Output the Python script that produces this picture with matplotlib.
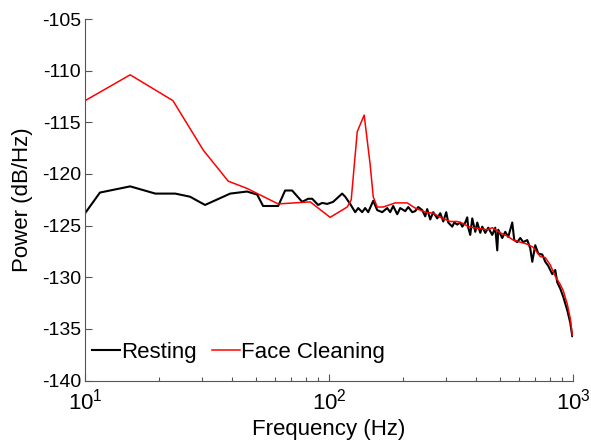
import matplotlib.pyplot as plt

plt.rcParams['font.family'] = ['Liberation Sans', 'DejaVu Sans']
plt.rcParams['mathtext.fontset'] = 'custom'
plt.rcParams['mathtext.rm'] = 'Liberation Sans'
plt.rcParams['mathtext.default'] = 'regular'
plt.rcParams['axes.unicode_minus'] = False

# Resting PSD
rest_freq = [10.0, 11.5, 15.3, 19.4, 23.4, 26.9, 31.0, 39.3, 46.1, 50.7, 53.6, 61.8,
             66.0, 70.5, 77.5, 82.0, 85.2, 90.1, 93.6, 98.1, 103.8, 113.0, 116.3,
             121.9, 127.8, 131.5, 136.5, 140.4, 144.5, 151.5, 157.3, 164.9, 172.9,
             177.8, 182.9, 190.0, 195.4, 204.9, 210.8, 218.9, 225.1, 231.6, 240.5,
             247.4, 252.1, 259.4, 266.8, 277.1, 285.1, 293.3, 301.7, 307.4, 319.3,
             325.4, 334.6, 344.3, 350.9, 361.0, 367.8, 371.3, 378.4, 385.6, 396.7,
             404.3, 415.9, 423.7, 436.0, 448.5, 465.6, 479.0, 488.2, 492.8, 511.7,
             526.4, 541.5, 562.3, 573.1, 589.6, 606.4, 623.9, 647.9, 666.5, 679.2,
             698.7, 718.8, 746.4, 767.8, 789.9, 820.2, 843.8, 859.9, 884.5, 910.0,
             945.0, 972.0, 990.6]
rest_power = [-123.8, -121.8, -121.2, -121.9, -121.9, -122.2, -123.0, -121.9, -121.7,
              -122.0, -123.1, -123.1, -121.6, -121.6, -122.7, -122.4, -122.4, -123.0,
              -122.8, -122.9, -122.7, -121.9, -122.2, -122.9, -123.7, -123.3, -123.7,
              -123.3, -123.7, -122.6, -123.5, -123.7, -123.3, -123.7, -123.1, -123.9,
              -123.3, -123.6, -123.2, -123.7, -123.6, -123.2, -123.5, -124.1, -123.4,
              -124.4, -123.7, -124.3, -123.8, -124.6, -123.7, -124.7, -125.1, -124.7,
              -124.9, -124.7, -125.1, -124.7, -124.2, -125.2, -125.9, -124.3, -125.6,
              -124.7, -125.7, -125.1, -125.7, -125.2, -125.9, -125.2, -127.4, -125.4,
              -126.2, -125.6, -126.1, -124.7, -126.4, -126.6, -126.2, -126.6, -126.4,
              -127.2, -128.5, -126.9, -127.7, -127.8, -128.5, -128.9, -129.7, -129.3,
              -130.5, -131.1, -131.9, -133.2, -134.4, -135.7]

# Face cleaning PSD
face_freq = [10.0, 15.3, 22.9, 30.5, 38.6, 46.1, 61.8, 83.6, 100.9, 118.5, 123.1,
             130.3, 139.1, 147.2, 151.5, 157.3, 166.4, 186.5, 208.8, 225.1, 247.5,
             266.8, 290.5, 313.3, 334.6, 354.2, 371.3, 389.3, 415.8, 444.1, 465.6,
             502.1, 536.3, 567.5, 606.4, 647.8, 685.5, 712.0, 732.5, 767.8, 804.9,
             843.8, 884.5, 910.0, 945.0, 972.0, 990.6]
face_power = [-112.9, -110.4, -112.9, -117.7, -120.7, -121.4, -122.9, -122.7, -124.2,
              -123.2, -122.5, -115.9, -114.3, -119.1, -122.2, -123.2, -123.2, -122.8,
              -122.8, -123.3, -123.7, -123.8, -124.3, -124.6, -124.6, -124.8, -125.1,
              -125.2, -125.3, -125.4, -125.2, -125.7, -126.0, -126.4, -126.6, -126.8,
              -127.1, -127.6, -128.0, -128.1, -128.8, -129.9, -130.7, -131.3, -132.6,
              -134.0, -135.6]

fig = plt.figure(figsize=(5.91, 4.43), dpi=100)
ax = fig.add_axes([0.144, 0.141, 0.826, 0.816])

ax.plot(rest_freq, rest_power, color='black', lw=1.5, label='Resting')
ax.plot(face_freq, face_power, color='red', lw=1.1, label='Face Cleaning')

ax.set_xscale('log')
ax.set_xlim(10, 1000)
ax.set_ylim(-140, -105)
ax.set_yticks(range(-140, -104, 5))
ax.set_xticks([10, 100, 1000])
ax.set_xticklabels([r'$10^{1}$', r'$10^{2}$', r'$10^{3}$'])

for s in ['top', 'right']:
    ax.spines[s].set_visible(False)
for s in ['left', 'bottom']:
    ax.spines[s].set_color('#555555')
    ax.spines[s].set_linewidth(0.8)

ax.tick_params(which='both', direction='in', color='#555555', width=0.8)
ax.tick_params(which='major', length=5, labelsize=14, pad=3)
ax.tick_params(which='minor', length=3)
ax.tick_params(axis='x', which='major', labelsize=16, pad=6)

ax.set_xlabel('Frequency (Hz)', fontsize=16, labelpad=3)
ax.set_ylabel('Power (dB/Hz)', fontsize=16, labelpad=6)

ax.legend(loc='lower left', ncol=2, frameon=False, fontsize=16,
          handlelength=1.25, handletextpad=0.05, columnspacing=0.7,
          borderpad=0.1, borderaxespad=0.2, bbox_to_anchor=(0.0, 0.03))

fig.savefig('out.png', dpi=100)
